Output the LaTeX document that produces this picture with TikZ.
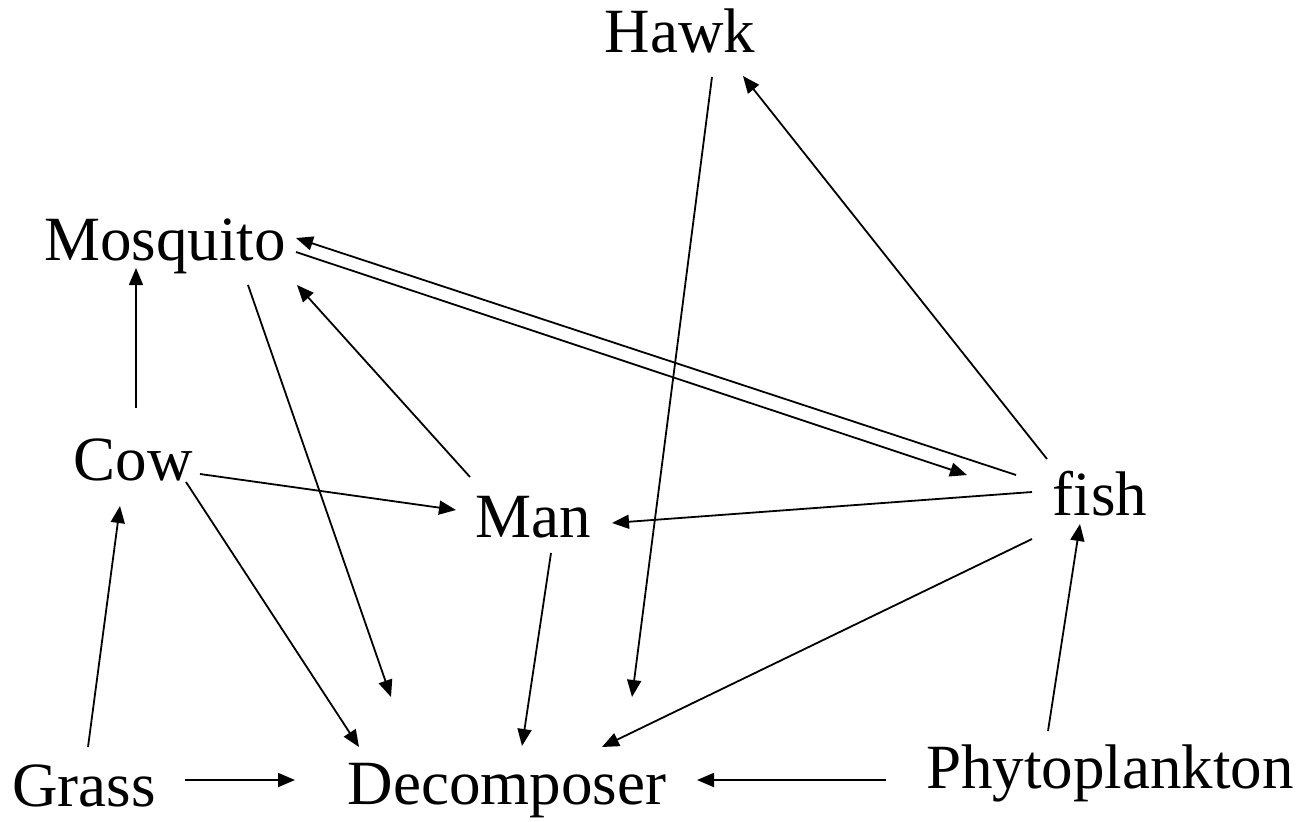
\documentclass[tikz,border=0pt]{standalone}
\usepackage{fontspec}
\setmainfont{Liberation Serif}
\usepackage{tikz}
\usetikzlibrary{arrows.meta}
\newcommand{\webFont}{\fontsize{63}{70}\selectfont}
% from/dx/dy/to/dx/dy, offsets from the base point of each node
\newcommand{\feedLinks}{hawk/32/25/decomp/125/-107, fish/-53/-56/hawk/63/24, fish/-84/-40/mosquito/131/-22, mosquito/131/-8/fish/-133/-40, man/-63/-60/mosquito/132/25, cow/3/-72/mosquito/-29/8, mosquito/83/25/decomp/-116/-107, cow/67/-6/man/-77/-27, fish/-68/-23/man/79/-14, cow/53/2/decomp/-148/-57, man/18/16/decomp/15/-58, fish/-68/24/decomp/95/-57, grass/4/-59/cow/-13/26, grass/101/-26/decomp/-212/-24, phyto/-224/-8/decomp/190/-24, phyto/-62/-57/fish/-20/9}
\begin{document}
\begin{tikzpicture}[x=1pt,y=-1pt,
	organism/.style={anchor=base, inner sep=0pt, font=\webFont},
	feeds/.style={line width=1.8pt, -{Triangle[length=17pt,width=14pt]}}]
	\useasboundingbox (0,0) rectangle (1307,822);
	
	\node[organism] (hawk) at (680,52) {Hawk};
	\node[organism] (mosquito) at (165,260) {Mosquito};
	\node[organism] (cow) at (133,480) {Cow};
	\node[organism] (man) at (533,537) {Man};
	\node[organism] (fish) at (1100,515) {fish};
	\node[organism] (grass) at (84,806) {Grass};
	\node[organism] (decomp) at (507,804) {Decomposer};
	\node[organism] (phyto) at (1110,788) {Phytoplankton};
	
	\foreach \from/\fx/\fy/\to/\tx/\ty in \feedLinks
	{
		\draw[feeds] ([shift={(\fx,\fy)}]\from.base) -- ([shift={(\tx,\ty)}]\to.base);
	}
\end{tikzpicture}
\end{document}
